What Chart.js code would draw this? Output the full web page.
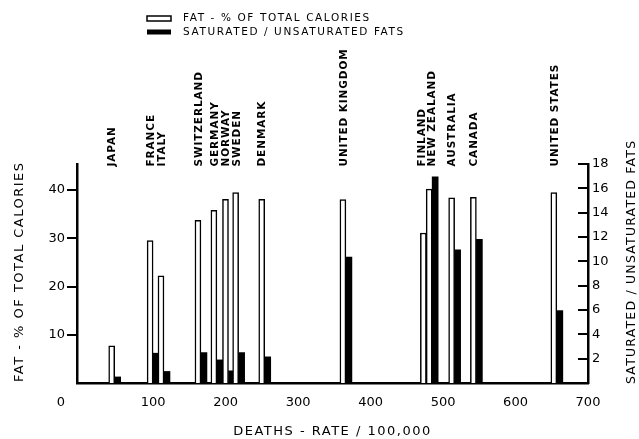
<!DOCTYPE html>
<html><head><meta charset="utf-8">
<script src="https://cdn.jsdelivr.net/npm/chart.js@4"></script>
<style>html,body{margin:0;padding:0;background:#fff;}</style>
</head><body>
<canvas id="c" width="639" height="439"></canvas>
<script>
const countries = ['JAPAN','FRANCE','ITALY','SWITZERLAND','GERMANY','NORWAY','SWEDEN','DENMARK','UNITED KINGDOM','FINLAND','NEW ZEALAND','AUSTRALIA','CANADA','UNITED STATES'];
const deathRate = [47, 100, 115, 166, 188, 204, 218, 254, 366, 477, 485, 516, 546, 657];
const fatPercent = [7.7, 29.5, 22.2, 33.7, 35.8, 38.1, 39.5, 38.1, 38.0, 31.1, 40.2, 38.4, 38.5, 39.5];
const satUnsatRatio = [0.5, 2.45, 0.95, 2.5, 1.9, 1.0, 2.5, 2.15, 10.35, 10.6, 16.95, 10.95, 11.8, 5.95];
const xTickValues = [100, 200, 300, 400, 500, 600, 700];
const originLabel = '0';
const leftTickValues = [10, 20, 30, 40];
const rightTickValues = [2, 4, 6, 8, 10, 12, 14, 16, 18];
const fatLabel = 'FAT - % OF TOTAL CALORIES';
const ratioLabel = 'SATURATED / UNSATURATED FATS';
const xTitle = 'DEATHS - RATE / 100,000';

const FONT = 'DejaVu Sans';
const tickFont = {family: FONT, size: 13};

const decorPlugin = {
  id: 'decor',
  afterDraw(chart) {
    const ctx = chart.ctx;
    const ca = chart.chartArea;
    const xs = chart.scales.x, yR = chart.scales.yR;
    ctx.save();
    ctx.fillStyle = '#000';
    ctx.strokeStyle = '#000';
    // inward ticks on right axis
    ctx.lineWidth = 2;
    rightTickValues.forEach(v => {
      const y = Math.round(yR.getPixelForValue(v));
      ctx.beginPath(); ctx.moveTo(ca.right - 10, y); ctx.lineTo(ca.right, y); ctx.stroke();
    });
    // origin label
    ctx.font = '13px ' + FONT;
    ctx.textAlign = 'center'; ctx.textBaseline = 'middle';
    ctx.fillText(originLabel, ca.left - 16, ca.bottom + 20);
    // legend
    ctx.font = '10.5px ' + FONT;
    ctx.letterSpacing = '1.6px';
    ctx.textAlign = 'left';
    chart.data.datasets.forEach((ds, i) => {
      const cy = 18.5 + i * 13.5;
      if (i === 0) {
        ctx.lineWidth = 1.5;
        ctx.fillStyle = '#fff';
        ctx.fillRect(147, cy - 2.5, 24, 5);
        ctx.strokeRect(147, cy - 2.5, 24, 5);
        ctx.fillStyle = '#000';
      } else {
        ctx.fillRect(147, cy - 2.5, 24, 5);
      }
      ctx.fillText(ds.label, 183, cy);
    });
    // axis titles
    ctx.font = '13px ' + FONT;
    ctx.letterSpacing = '1.5px';
    ctx.textAlign = 'center';
    ctx.fillText(xTitle, (ca.left + ca.right) / 2, 432);
    ctx.textAlign = 'left';
    ctx.save(); ctx.translate(20, ca.bottom - 1); ctx.rotate(-Math.PI / 2);
    ctx.fillText(fatLabel, 0, 0); ctx.restore();
    ctx.font = '12.5px ' + FONT;
    ctx.letterSpacing = '1.2px';
    ctx.save(); ctx.translate(632, ca.bottom + 1); ctx.rotate(-Math.PI / 2);
    ctx.fillText(ratioLabel, 0, 0); ctx.restore();
    // country labels (rotated), spread apart if too close
    const minGap = 10.8;
    const pos = deathRate.map(v => xs.getPixelForValue(v) - 2);
    for (let iter = 0; iter < 50; iter++) {
      for (let i = 1; i < pos.length; i++) {
        const d = pos[i] - pos[i - 1];
        if (d < minGap) { const s = (minGap - d) / 2; pos[i - 1] -= s; pos[i] += s; }
      }
    }
    ctx.font = 'bold 10.5px ' + FONT;
    ctx.letterSpacing = '0.9px';
    ctx.textAlign = 'left'; ctx.textBaseline = 'middle';
    countries.forEach((name, i) => {
      ctx.save(); ctx.translate(pos[i], 166.5); ctx.rotate(-Math.PI / 2);
      ctx.fillText(name, 0, 0); ctx.restore();
    });
    ctx.restore();
  }
};

new Chart(document.getElementById('c'), {
  type: 'bar',
  data: {
    datasets: [
      {
        label: fatLabel,
        data: deathRate.map((x, i) => ({x: x, y: fatPercent[i]})),
        yAxisID: 'yL', stack: 'fat',
        backgroundColor: '#fff', borderColor: '#000', borderWidth: 1.5,
        borderSkipped: 'bottom', barThickness: 6
      },
      {
        label: ratioLabel,
        data: deathRate.map((x, i) => ({x: x, y: satUnsatRatio[i]})),
        yAxisID: 'yR', stack: 'ratio',
        backgroundColor: '#000', borderWidth: 0, barThickness: 6
      }
    ]
  },
  options: {
    responsive: false,
    animation: false,
    layout: {padding: {top: 164, left: 0, right: 0, bottom: 0}},
    plugins: {legend: {display: false}, tooltip: {enabled: false}},
    scales: {
      x: {
        type: 'linear', min: -5, max: 700, offset: false,
        afterBuildTicks: s => { s.ticks = xTickValues.map(v => ({value: v})); },
        afterFit: s => { s.height = 56; },
        grid: {display: false, drawTicks: false, offset: false},
        border: {display: true, color: '#000', width: 2.5},
        ticks: {autoSkip: false, maxRotation: 0, padding: 12, color: '#000', font: tickFont}
      },
      yL: {
        position: 'left', min: 0, max: 45.4,
        afterBuildTicks: s => { s.ticks = leftTickValues.map(v => ({value: v})); },
        afterFit: s => { s.width = 77; },
        grid: {drawOnChartArea: false, drawTicks: true, tickLength: 10, color: '#000', lineWidth: 2},
        border: {display: true, color: '#000', width: 2.5},
        ticks: {padding: 2, color: '#000', font: tickFont}
      },
      yR: {
        position: 'right', min: 0, max: 18,
        afterBuildTicks: s => { s.ticks = rightTickValues.map(v => ({value: v})); },
        afterFit: s => { s.width = 51; },
        grid: {drawOnChartArea: false, drawTicks: false},
        border: {display: true, color: '#000', width: 2.5},
        ticks: {padding: 4, color: '#000', font: tickFont}
      }
    }
  },
  plugins: [decorPlugin]
});
</script>
</body></html>
